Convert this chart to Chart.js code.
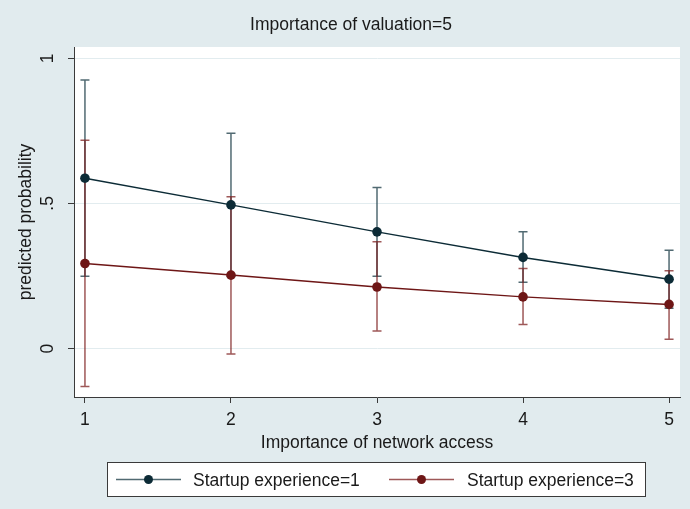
<!DOCTYPE html>
<html>
<head>
<meta charset="utf-8">
<script src="https://cdn.jsdelivr.net/npm/chart.js@4.4.0/dist/chart.umd.min.js"></script>
<style>
  html, body { margin: 0; padding: 0; background: #e1ebee; }
  #wrap { width: 690px; height: 509px; }
</style>
</head>
<body>
<div id="wrap"><canvas id="c" width="690" height="509"></canvas></div>
<script>
// Predicted probabilities with 95% confidence intervals
const networkAccess = [1, 2, 3, 4, 5];

const exp1Prob = [0.587, 0.495, 0.402, 0.314, 0.239];
const exp1Low  = [0.249, 0.248, 0.249, 0.228, 0.139];
const exp1High = [0.925, 0.742, 0.555, 0.402, 0.339];

const exp3Prob = [0.293, 0.253, 0.212, 0.178, 0.152];
const exp3Low  = [-0.131, -0.019, 0.060, 0.083, 0.032];
const exp3High = [0.718, 0.523, 0.368, 0.276, 0.268];

const yTicks = [0, 0.5, 1];
const yTickLabels = ['0', '.5', '1'];
const seriesLabels = ['Startup experience=1', 'Startup experience=3'];
const chartTitle = 'Importance of valuation=5';

const FONT = "'Liberation Sans', Arial, Helvetica, sans-serif";
const FS = 17.5;
const TEXT = '#1a1a1a';
const AXIS = '#3a3a3a';

const colors = [
  { line: '#0c2b36', bar: 'rgba(14,48,60,0.72)' },
  { line: '#6e1616', bar: 'rgba(120,24,24,0.72)' }
];

const intervals = [
  { low: exp1Low, high: exp1High },
  { low: exp3Low, high: exp3High }
];

function points(ys) {
  return networkAccess.map((x, i) => ({ x: x, y: ys[i] }));
}

// page background, white plot region and the heading
const backdrop = {
  id: 'backdrop',
  beforeDraw(chart) {
    const { ctx, chartArea: a } = chart;
    ctx.save();
    ctx.fillStyle = '#e1ebee';
    ctx.fillRect(0, 0, chart.width, chart.height);
    ctx.fillStyle = '#ffffff';
    ctx.fillRect(a.left, a.top, a.right - a.left, a.bottom - a.top);
    ctx.fillStyle = TEXT;
    ctx.font = FS + 'px ' + FONT;
    ctx.textAlign = 'center';
    ctx.textBaseline = 'alphabetic';
    ctx.fillText(chartTitle, 351, 29.5);
    ctx.restore();
  }
};

// capped confidence-interval spikes
const errorBars = {
  id: 'errorBars',
  beforeDatasetsDraw(chart) {
    const { ctx, scales: { x, y } } = chart;
    ctx.save();
    ctx.lineWidth = 1.5;
    intervals.forEach((iv, d) => {
      ctx.strokeStyle = colors[d].bar;
      networkAccess.forEach((v, i) => {
        const px = x.getPixelForValue(v);
        const lo = y.getPixelForValue(iv.low[i]);
        const hi = y.getPixelForValue(iv.high[i]);
        ctx.beginPath();
        ctx.moveTo(px, lo); ctx.lineTo(px, hi);
        ctx.moveTo(px - 4.5, lo); ctx.lineTo(px + 4.5, lo);
        ctx.moveTo(px - 4.5, hi); ctx.lineTo(px + 4.5, hi);
        ctx.stroke();
      });
    });
    ctx.restore();
  }
};

// boxed legend under the axis title
const boxLegend = {
  id: 'boxLegend',
  afterDraw(chart) {
    const ctx = chart.ctx;
    const box = { left: 107.5, top: 462.5, width: 538, height: 34 };
    const cy = 479.5;
    const items = [
      { x0: 116, x1: 181, tx: 193 },
      { x0: 389, x1: 454, tx: 467 }
    ];
    ctx.save();
    ctx.fillStyle = '#ffffff';
    ctx.fillRect(box.left, box.top, box.width, box.height);
    ctx.strokeStyle = AXIS;
    ctx.lineWidth = 1;
    ctx.strokeRect(box.left, box.top, box.width, box.height);
    chart.data.datasets.forEach((ds, d) => {
      const it = items[d];
      ctx.strokeStyle = colors[d].bar;
      ctx.lineWidth = 1.3;
      ctx.beginPath();
      ctx.moveTo(it.x0, cy); ctx.lineTo(it.x1, cy);
      ctx.stroke();
      ctx.fillStyle = ds.pointBackgroundColor;
      ctx.beginPath();
      ctx.arc((it.x0 + it.x1) / 2, cy, 4.5, 0, Math.PI * 2);
      ctx.fill();
      ctx.fillStyle = TEXT;
      ctx.font = FS + 'px ' + FONT;
      ctx.textBaseline = 'alphabetic';
      ctx.textAlign = 'left';
      ctx.fillText(ds.label, it.tx, 485.5);
    });
    ctx.restore();
  }
};

function lineSet(label, ys, c) {
  return {
    label: label,
    data: points(ys),
    borderColor: c.line,
    backgroundColor: c.line,
    pointBackgroundColor: c.line,
    pointBorderColor: c.line,
    pointRadius: 4.8,
    pointBorderWidth: 0,
    borderWidth: 1.5,
    tension: 0,
    fill: false
  };
}

new Chart(document.getElementById('c'), {
  type: 'line',
  data: {
    datasets: [
      lineSet(seriesLabels[0], exp1Prob, colors[0]),
      lineSet(seriesLabels[1], exp3Prob, colors[1])
    ]
  },
  plugins: [backdrop, errorBars, boxLegend],
  options: {
    responsive: false,
    animation: false,
    devicePixelRatio: 1,
    layout: { padding: { left: 0, right: 10, top: 47, bottom: 54 } },
    plugins: {
      legend: { display: false },
      tooltip: { enabled: false },
      title: { display: false }
    },
    scales: {
      x: {
        type: 'linear',
        position: 'bottom',
        min: 0.925,
        max: 5.075,
        afterBuildTicks: s => { s.ticks = networkAccess.map(v => ({ value: v })); },
        afterFit: s => { s.height = 58; },
        grid: { drawOnChartArea: false, drawTicks: true, tickLength: 6, tickColor: AXIS, tickWidth: 1 },
        border: { display: true, color: AXIS, width: 1 },
        ticks: {
          color: TEXT, padding: 7, maxRotation: 0, autoSkip: false,
          font: { family: FONT, size: FS },
          callback: v => String(v)
        },
        title: {
          display: true,
          text: 'Importance of network access',
          color: TEXT,
          font: { family: FONT, size: FS, lineHeight: 1.2 },
          padding: { top: 0, bottom: 1.4 }
        }
      },
      y: {
        type: 'linear',
        position: 'left',
        min: -0.167,
        max: 1.039,
        afterBuildTicks: s => { s.ticks = yTicks.map(v => ({ value: v })); },
        afterFit: s => { s.width = 74; },
        grid: { color: '#e2ecef', lineWidth: 1, drawTicks: true, tickLength: 6, tickColor: AXIS, tickWidth: 1 },
        border: { display: true, color: AXIS, width: 1 },
        ticks: {
          color: TEXT, padding: 13, minRotation: 90, maxRotation: 90,
          crossAlign: 'center', autoSkip: false,
          font: { family: FONT, size: FS },
          callback: v => yTickLabels[yTicks.indexOf(v)]
        },
        title: {
          display: true,
          text: 'predicted probability',
          color: TEXT,
          font: { family: FONT, size: FS, lineHeight: 1.2 },
          padding: { top: 15.5, bottom: 0 }
        }
      }
    }
  }
});
</script>
</body>
</html>
